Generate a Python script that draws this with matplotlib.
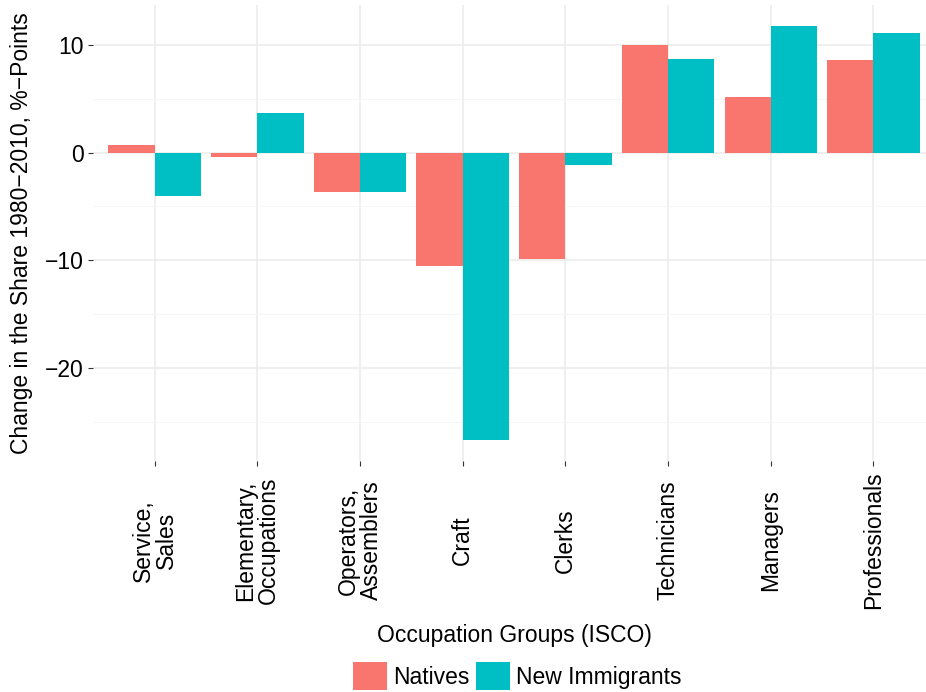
import numpy as np
import matplotlib
matplotlib.use("Agg")
import matplotlib.pyplot as plt
from matplotlib.patches import Patch
from matplotlib.ticker import FixedLocator

plt.rcParams['font.family'] = ['Liberation Sans', 'DejaVu Sans']

categories = ["Service,\nSales", "Elementary,\nOccupations", "Operators,\nAssemblers",
              "Craft", "Clerks", "Technicians", "Managers", "Professionals"]
natives = [0.72, -0.43, -3.62, -10.52, -9.93, 9.97, 5.17, 8.6]
immigrants = [-4.02, 3.72, -3.62, -26.7, -1.11, 8.67, 11.77, 11.14]
series_names = ["Natives", "New Immigrants"]
colors = ["#F8766D", "#00BFC4"]
y_ticks = [-20, -10, 0, 10]
y_minor = [-25, -15, -5, 5]

W, H = 926, 692
fig = plt.figure(figsize=(W / 100, H / 100), dpi=100)
left, right, top, bottom = 93, 935, 5.2, 460.7
ax = fig.add_axes([left / W, 1 - bottom / H, (right - left) / W, (bottom - top) / H])

x = np.arange(len(categories))
bw = 0.45
ax.bar(x - bw / 2, natives, width=bw, color=colors[0], linewidth=0, zorder=3)
ax.bar(x + bw / 2, immigrants, width=bw, color=colors[1], linewidth=0, zorder=3)

ax.set_xlim(-0.6, len(categories) - 0.4)
lo = min(min(natives), min(immigrants))
hi = max(max(natives), max(immigrants))
pad = 0.05 * (hi - lo)
ax.set_ylim(lo - pad, hi + pad)

ax.set_yticks(y_ticks)
ax.set_yticklabels([("\u2212" + str(-v)) if v < 0 else str(v) for v in y_ticks])
ax.yaxis.set_minor_locator(FixedLocator(y_minor))
ax.set_xticks(x)
ax.set_xticklabels(categories, rotation=90, ha='center', va='center',
                   multialignment='center', linespacing=1.0)

for s in ax.spines.values():
    s.set_visible(False)
ax.set_axisbelow(True)
ax.grid(True, which='major', color='#EBEBEB', linewidth=1.1)
ax.grid(True, which='minor', axis='y', color='#F5F5F5', linewidth=0.6)
ax.tick_params(axis='both', which='major', length=3.5, width=0.8, color='#333333',
               labelsize=16.5, labelcolor='black')
ax.tick_params(axis='y', which='major', pad=3)
ax.tick_params(axis='x', which='major', pad=54)
ax.tick_params(axis='y', which='minor', length=0)

fig.text(22 / W, 1 - ((top + bottom) / 2) / H, "Change in the Share 1980\u22122010, %\u2212Points",
         rotation=90, ha='center', va='center', fontsize=16.5)
fig.text(514 / W, 1 - 642 / H, "Occupation Groups (ISCO)", ha='center', va='baseline',
         fontsize=16.5)

handles = [Patch(facecolor=c, edgecolor='none', label=n) for c, n in zip(colors, series_names)]
fig.legend(handles=handles, loc='center', bbox_to_anchor=(517 / W, 1 - 676 / H), ncol=2,
           frameon=False, fontsize=16.5, handlelength=1.5, handleheight=1.5,
           handletextpad=0.25, columnspacing=0.3, borderpad=0, borderaxespad=0)

fig.savefig("out.png", dpi=100)
